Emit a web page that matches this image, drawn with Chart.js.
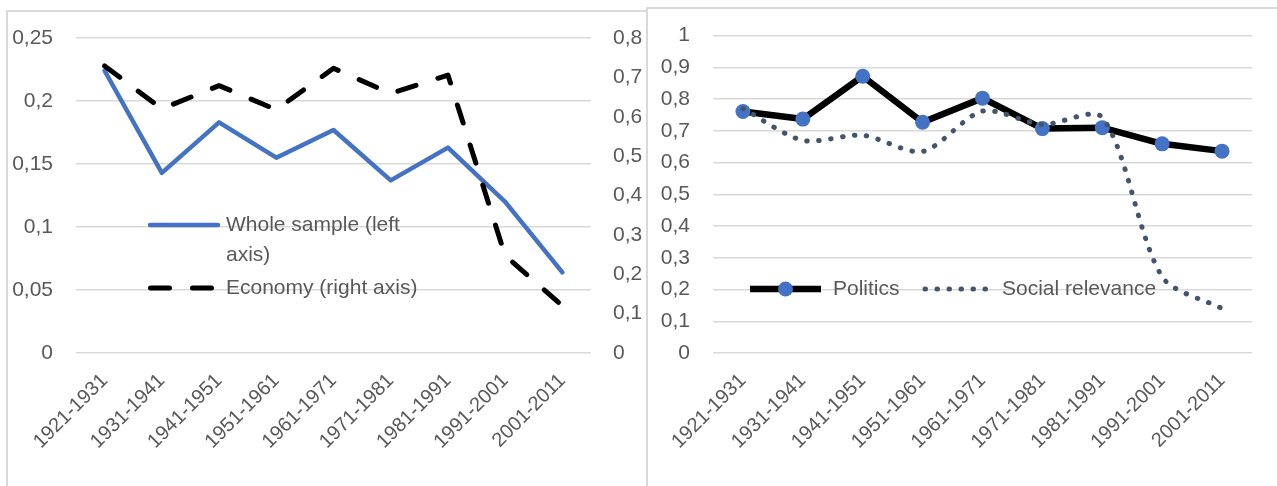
<!DOCTYPE html>
<html>
<head>
<meta charset="utf-8">
<title>Trends by decade</title>
<script src="https://cdn.jsdelivr.net/npm/chart.js@4/dist/chart.umd.min.js"></script>
<style>
  html, body { margin: 0; padding: 0; background: #fff; }
  body { width: 1277px; height: 486px; position: relative; overflow: hidden; }
  .frame { position: absolute; box-sizing: border-box; border: 2px solid #d9d9d9; }
  #frameLeft { left: 6px; top: 10px; width: 642px; height: 500px; }
  #frameRight { left: 646px; top: 7px; width: 700px; height: 500px; }
  canvas { position: absolute; top: 0; }
  #trendLeft { left: 0; }
  #trendRight { left: 647px; }
</style>
</head>
<body>
<div class="frame" id="frameLeft"></div>
<div class="frame" id="frameRight"></div>
<canvas id="trendLeft" width="647" height="486"></canvas>
<canvas id="trendRight" width="630" height="486"></canvas>
<script>
const decades = ['1921-1931', '1931-1941', '1941-1951', '1951-1961', '1961-1971',
                 '1971-1981', '1981-1991', '1991-2001', '2001-2011'];

const wholeSample = [0.224, 0.143, 0.183, 0.155, 0.177, 0.137, 0.163, 0.120, 0.064];
const economy = [0.729, 0.620, 0.679, 0.618, 0.723, 0.659, 0.706, 0.247, 0.120];
const politics = [0.761, 0.737, 0.872, 0.727, 0.803, 0.707, 0.710, 0.659, 0.636];
const socialRelevance = [0.770, 0.670, 0.686, 0.635, 0.762, 0.720, 0.742, 0.240, 0.140];

const leftAxisTicks = [0, 0.05, 0.1, 0.15, 0.2, 0.25];
const rightAxisTicks = [0, 0.1, 0.2, 0.3, 0.4, 0.5, 0.6, 0.7, 0.8];
const shareAxisTicks = [0, 0.1, 0.2, 0.3, 0.4, 0.5, 0.6, 0.7, 0.8, 0.9, 1];

const TEXT_COLOR = '#595959';
const GRID_COLOR = '#d9d9d9';
const FONT = '21px "Liberation Sans"';

Chart.defaults.font.family = '"Liberation Sans", Arial, sans-serif';
Chart.defaults.font.size = 21;
Chart.defaults.color = TEXT_COLOR;

// decimal comma, as in the printed axes
const commaLabel = v => String(Math.round(v * 100) / 100).replace('.', ',');

// legend drawn inside the plot area, line sample + (possibly wrapped) text
const insideLegend = {
    id: 'insideLegend',
    afterDatasetsDraw(chart, args, opts) {
        if (!opts.items) return;
        const ctx = chart.ctx;
        ctx.save();
        ctx.font = FONT;
        ctx.textBaseline = 'middle';
        opts.items.forEach(item => {
            const ds = chart.data.datasets[item.dataset];
            ctx.beginPath();
            ctx.strokeStyle = ds.borderColor;
            ctx.lineWidth = ds.borderWidth;
            ctx.lineCap = ds.borderCapStyle || 'butt';
            ctx.setLineDash(ds.borderDash || []);
            ctx.moveTo(item.x0, item.y);
            ctx.lineTo(item.x1, item.y);
            ctx.stroke();
            ctx.setLineDash([]);
            if (ds.pointRadius) {
                ctx.beginPath();
                ctx.fillStyle = ds.pointBackgroundColor;
                ctx.arc((item.x0 + item.x1) / 2, item.y, ds.pointRadius, 0, Math.PI * 2);
                ctx.fill();
            }
            ctx.fillStyle = TEXT_COLOR;
            item.text.forEach((line, i) => ctx.fillText(line, item.tx, item.y + i * 30));
        });
        ctx.restore();
    }
};

function valueAxis(ticks, max, opts) {
    return {
        min: 0,
        max: max,
        position: opts.position,
        grid: { display: opts.grid, color: GRID_COLOR, lineWidth: 1.5, drawTicks: false },
        border: { display: false },
        ticks: { padding: opts.padding, callback: commaLabel },
        afterBuildTicks: scale => { scale.ticks = ticks.map(v => ({ value: v })); },
        afterFit: scale => { scale.width = opts.width; }
    };
}

function categoryAxis() {
    return {
        offset: true,
        grid: { display: false, drawTicks: false },
        border: { display: false },
        ticks: { autoSkip: false, minRotation: 45, maxRotation: 45, padding: 16, font: { size: 20 } },
        afterFit: scale => { scale.height = 133; }
    };
}

class DecadeCharts {
    constructor() {
        this.initLeftChart();
        this.initRightChart();
    }

    initLeftChart() {
        const ctx = document.getElementById('trendLeft').getContext('2d');
        new Chart(ctx, {
            type: 'line',
            data: {
                labels: decades,
                datasets: [{
                    label: 'Economy (right axis)',
                    data: economy,
                    yAxisID: 'y1',
                    borderColor: '#000000',
                    borderWidth: 5,
                    borderDash: [19, 23],
                    borderCapStyle: 'round',
                    borderJoinStyle: 'round',
                    pointRadius: 0,
                    tension: 0
                }, {
                    label: 'Whole sample (left axis)',
                    data: wholeSample,
                    yAxisID: 'y',
                    borderColor: '#4472C4',
                    borderWidth: 4.5,
                    borderCapStyle: 'round',
                    borderJoinStyle: 'round',
                    pointRadius: 0,
                    tension: 0
                }]
            },
            options: {
                responsive: false,
                animation: false,
                devicePixelRatio: 1,
                layout: { padding: { top: 38, right: 0, bottom: 0, left: 0 } },
                plugins: {
                    legend: { display: false },
                    tooltip: { enabled: false },
                    insideLegend: {
                        items: [
                            { dataset: 1, x0: 150, x1: 218, y: 225, tx: 226, text: ['Whole sample (left', 'axis)'] },
                            { dataset: 0, x0: 150.5, x1: 211.5, y: 288, tx: 226, text: ['Economy (right axis)'] }
                        ]
                    }
                },
                scales: {
                    x: categoryAxis(),
                    y: valueAxis(leftAxisTicks, 0.25, { position: 'left', grid: true, padding: 23, width: 76 }),
                    y1: valueAxis(rightAxisTicks, 0.8, { position: 'right', grid: false, padding: 22, width: 56 })
                }
            },
            plugins: [insideLegend]
        });
    }

    initRightChart() {
        const ctx = document.getElementById('trendRight').getContext('2d');
        new Chart(ctx, {
            type: 'line',
            data: {
                labels: decades,
                datasets: [{
                    label: 'Politics',
                    data: politics,
                    order: 2,
                    borderColor: '#000000',
                    borderWidth: 6.5,
                    borderJoinStyle: 'round',
                    pointRadius: 7.5,
                    pointBackgroundColor: '#4472C4',
                    pointBorderWidth: 0,
                    tension: 0
                }, {
                    label: 'Social relevance',
                    data: socialRelevance,
                    order: 1,
                    borderColor: '#44546A',
                    borderWidth: 5,
                    borderDash: [0.5, 11.5],
                    borderCapStyle: 'round',
                    pointRadius: 0,
                    tension: 0.28
                }]
            },
            options: {
                responsive: false,
                animation: false,
                devicePixelRatio: 1,
                layout: { padding: { top: 35, right: 25, bottom: 0, left: 0 } },
                plugins: {
                    legend: { display: false },
                    tooltip: { enabled: false },
                    insideLegend: {
                        items: [
                            { dataset: 0, x0: 103, x1: 174, y: 289, tx: 186, text: ['Politics'] },
                            { dataset: 1, x0: 278, x1: 342, y: 289, tx: 355, text: ['Social relevance'] }
                        ]
                    }
                },
                scales: {
                    x: categoryAxis(),
                    y: valueAxis(shareAxisTicks, 1, { position: 'left', grid: true, padding: 23, width: 66 })
                }
            },
            plugins: [insideLegend]
        });
    }
}

document.addEventListener('DOMContentLoaded', () => {
    new DecadeCharts();
});
</script>
</body>
</html>
